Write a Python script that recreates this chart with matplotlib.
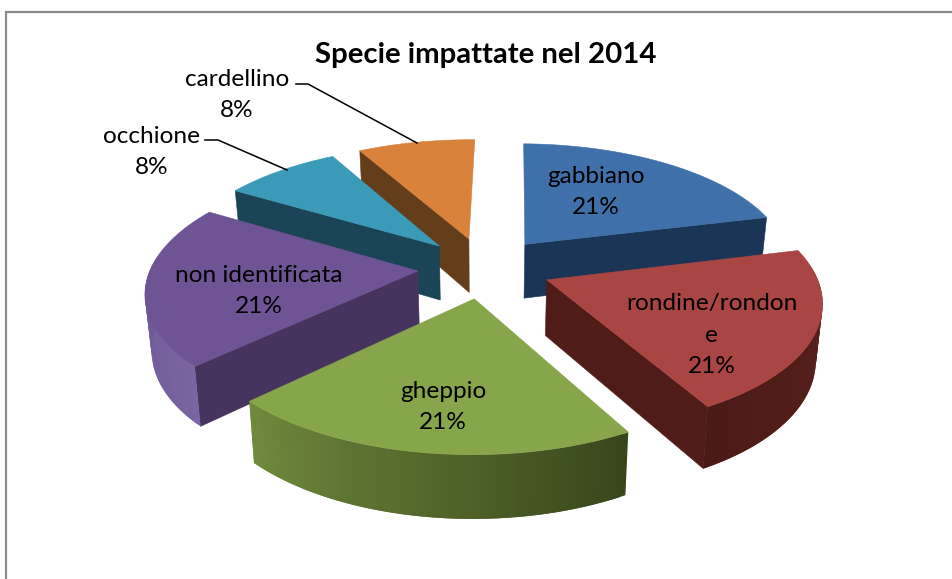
"""Specie impattate nel 2014: exploded 3D pie, projected by hand (matplotlib has no 3D pie)."""

import matplotlib

matplotlib.use("Agg")
import matplotlib.pyplot as plt
import numpy as np
from matplotlib.patches import Polygon

plt.rcParams["font.family"] = ["Lato", "DejaVu Sans"]

species = ["gabbiano", "rondine/rondon\ne", "gheppio", "non identificata", "occhione", "cardellino"]
counts = [5, 5, 5, 5, 2, 2]

top_colors = ["#3f70a9", "#a94542", "#87a64b", "#6e5494", "#3b9ab8", "#d9823b"]
wall_colors = ["#1b3557", "#4f1c18", "#4b5f28", "#46345f", "#1b4456", "#643d1a"]
arc_from = ["#1f3d63", "#5e2420", "#38461b", "#7a64a2", "#2f7d96", "#b06a30"]
arc_to = ["#1b3557", "#4c1a16", "#6f8a3c", "#65508c", "#2f7d96", "#b06a30"]

label_xy = [(596, 192), (712, 335), (443, 407), (259, 291), (152, 152), (237, 95)]

# projection of the pie plane to the picture, in pixels
CX, CY, A, B, K, H = 484.5, 267.5, 267.0, 122.0, 0.15, 55.0
EXPLODE = 0.25
ROTATION = 1.0


def project(x, y, z=0.0):
    w = 1 + K * y
    return CX + A * x / w * (1 - 0.02 * z), CY - B * y / w + H * z / w**0.75


def face(ax, xs, ys, zs, color, lw=0.4):
    px, py = project(np.asarray(xs), np.asarray(ys), np.asarray(zs))
    ax.add_patch(Polygon(np.c_[px, py], closed=True, fc=color, ec=color if lw else "none", lw=lw))


def mix(c1, c2, t):
    a, b = np.array(matplotlib.colors.to_rgb(c1)), np.array(matplotlib.colors.to_rgb(c2))
    return a + (b - a) * t


def draw_slice(ax, start, end, i):
    start, end = start + ROTATION, end + ROTATION
    mid = np.radians((start + end) / 2)
    ox, oy = EXPLODE * np.sin(mid), EXPLODE * np.cos(mid)
    th = np.radians(np.linspace(start, end, 61))
    ex, ey = ox + np.sin(th), oy + np.cos(th)
    n = len(th)

    # only the cut faces turned towards the viewer
    if np.sin(th[0]) < -0.1:
        face(ax, [ox, ex[0], ex[0], ox], [oy, ey[0], ey[0], oy], [0, 0, 1, 1], wall_colors[i])
    if np.sin(th[-1]) > 0.1:
        face(ax, [ox, ex[-1], ex[-1], ox], [oy, ey[-1], ey[-1], oy], [0, 0, 1, 1], wall_colors[i])

    # curved side, strips overlap so no seams show
    for j in range(n - 1):
        if np.cos(th[j]) > 0.1 and np.cos(th[j + 1]) > 0.1:
            continue
        k = min(j + 2, n - 1)
        c = mix(arc_from[i], arc_to[i], j / (n - 2))
        face(ax, [ex[j], ex[k], ex[k], ex[j]], [ey[j], ey[k], ey[k], ey[j]], [0, 0, 1, 1], c, lw=0)

    face(ax, np.r_[ox, ex], np.r_[oy, ey], np.zeros(n + 1), top_colors[i])


fig = plt.figure(figsize=(9.52, 5.79), dpi=100)
ax = fig.add_axes([0, 0, 1, 1])
ax.set_xlim(0, 952)
ax.set_ylim(579, 0)
ax.axis("off")

ax.plot([6, 6, 952], [579, 12, 12], color="#8c8c8c", lw=1.6, solid_joinstyle="miter")

edges = np.r_[0, np.cumsum(counts)] * 360 / sum(counts)
for i in [5, 4, 0, 3, 1, 2]:
    draw_slice(ax, edges[i], edges[i + 1], i)

total = sum(counts)
for name, n, (lx, ly) in zip(species, counts, label_xy):
    ax.text(lx, ly, f"{name}\n{round(100 * n / total)}%", ha="center", va="center",
            fontsize=17.6, linespacing=1.63, color="black")

ax.plot([296, 308, 417], [84, 84, 143], color="black", lw=1.1)
ax.plot([205, 218, 287], [140, 140, 170], color="black", lw=1.1)

ax.text(486, 55, "Specie impattate nel 2014", ha="center", va="center",
        fontsize=21.2, fontweight="bold", color="black")

fig.savefig("out.png", dpi=100, facecolor="white")
